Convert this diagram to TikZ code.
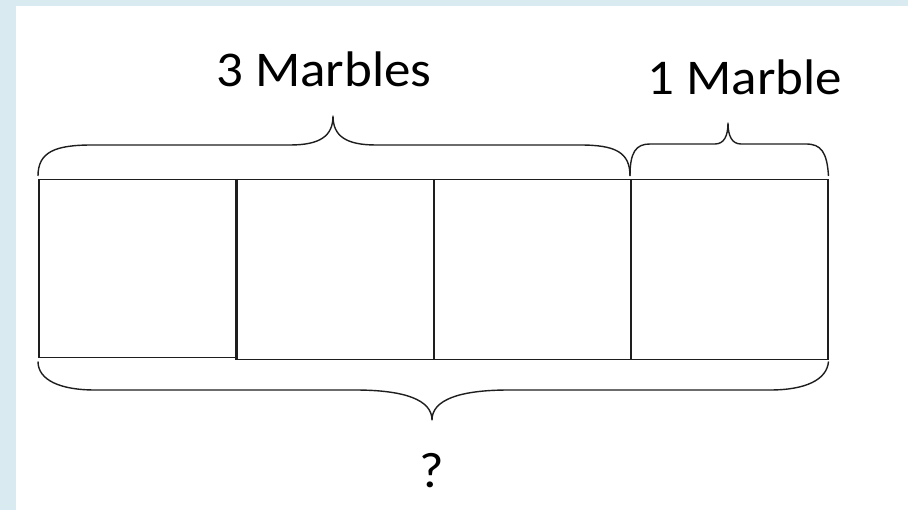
\documentclass[tikz,border=0pt]{standalone}
\usepackage{fontspec}
\setmainfont{Carlito}[FakeStretch=1.06]
\definecolor{bgblue}{RGB}{217,235,240}
\definecolor{ink}{RGB}{30,30,30}
\tikzset{
  cell/.style={draw=ink, line width=1.5pt, inner sep=0pt, minimum height=178pt, anchor=north west},
  brace/.style={draw=ink, line width=1.4pt, line join=round},
  lbl/.style={font=\fontsize{50}{50}\selectfont, text=black, inner sep=0pt, anchor=base}
}
\begin{document}
\begin{tikzpicture}[x=1pt,y=-1pt]
\fill[bgblue] (0,0) rectangle (908,510);
\fill[white] (16,6) rectangle (908,510);
\useasboundingbox (0,0) rectangle (908,510);
% cells
\node[cell, minimum width=198pt] (c1) at (38,179) {};
\node[cell, minimum width=197pt, minimum height=180pt] (c2) at (236,179) {};
\node[cell, minimum width=197pt, minimum height=180pt] (c3) at (433,179) {};
\node[cell, minimum width=197pt, minimum height=180pt] (c4) at (630,179) {};
\draw[ink, line width=3pt] (c2.north west) -- (c2.south west);
% labels
\node[lbl] (t3) at (324,87) {3 Marbles};
\node[lbl] (t1) at (745,95) {1 Marble};
\node[lbl] (tq) at (432,487) {?};
% top brace over three cells
\draw[brace] ([yshift=3pt]c1.north west) .. controls (38,152) and (55,145) .. (92,145)
  -- (290,145) .. controls (320,145) and (333,136) .. (333,116)
  .. controls (333,136) and (346,145) .. (376,145)
  -- (580,145) .. controls (615,145) and (630,152) .. ([yshift=3pt]c4.north west);
% top brace over last cell
\draw[brace] ([yshift=3pt]c4.north west) .. controls (630,152) and (636,144) .. (650,144)
  -- (715,144) .. controls (724,144) and (728,136) .. (728,123)
  .. controls (728,136) and (732,144) .. (741,144)
  -- (806,144) .. controls (821,144) and (827,152) .. ([yshift=3pt]c4.north east);
% bottom brace
\draw[brace] ([yshift=-3pt]c1.south west) .. controls (38,380) and (60,390) .. (95,390)
  -- (355,390) .. controls (405,390) and (432,400) .. (432,420)
  .. controls (432,400) and (459,390) .. (509,390)
  -- (770,390) .. controls (805,390) and (827,380) .. ([yshift=-1pt]c4.south east);
\end{tikzpicture}
\end{document}
